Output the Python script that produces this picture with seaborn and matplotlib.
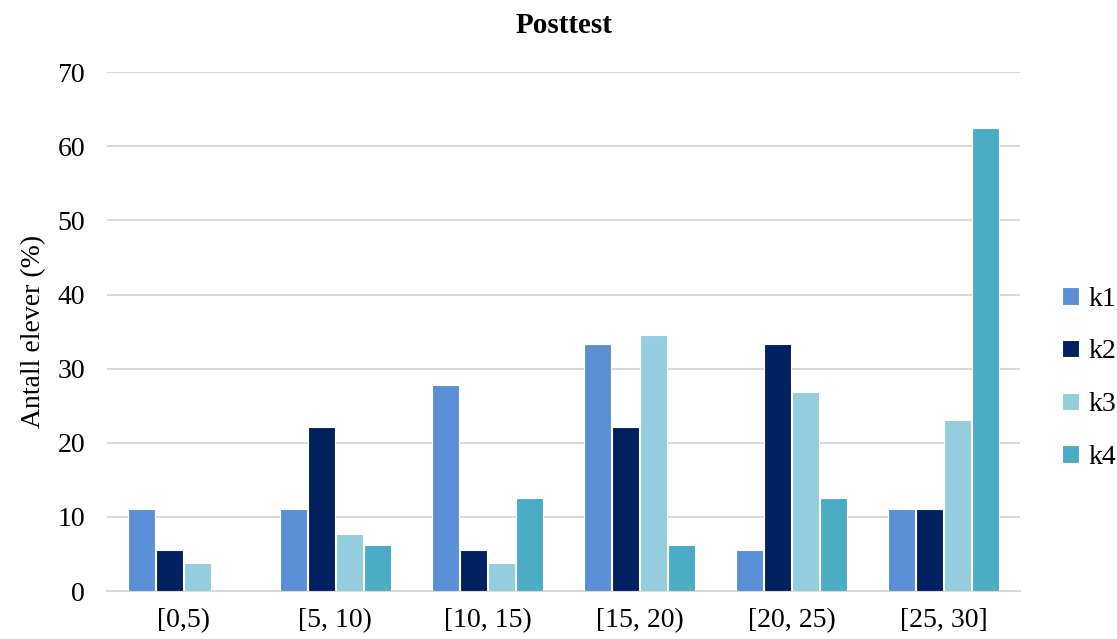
import numpy as np
import pandas as pd
import matplotlib.pyplot as plt
import seaborn as sns

# Data
intervals = ["[0,5)", "[5, 10)", "[10, 15)", "[15, 20)", "[20, 25)", "[25, 30]"]
k1 = [11.1, 11.1, 27.8, 33.3, 5.6, 11.1]
k2 = [5.6, 22.2, 5.6, 22.2, 33.3, 11.1]
k3 = [3.8, 7.7, 3.8, 34.6, 26.9, 23.1]
k4 = [0.0, 6.25, 12.5, 6.25, 12.5, 62.5]
groups = ["k1", "k2", "k3", "k4"]
colors = ["#5A8FD6", "#002060", "#94CDDD", "#4BACC6"]

df = pd.DataFrame({"Intervall": intervals, "k1": k1, "k2": k2, "k3": k3, "k4": k4})
df = df.melt(id_vars="Intervall", var_name="Klass", value_name="Andel")

sns.set_style("white")
plt.rcParams["font.family"] = ["Liberation Serif", "DejaVu Serif"]
plt.rcParams["text.color"] = "black"
plt.rcParams["axes.labelcolor"] = "black"
plt.rcParams["xtick.color"] = "black"
plt.rcParams["ytick.color"] = "black"

fig = plt.figure(figsize=(11.17, 6.39), dpi=100)
ax = fig.add_axes([0.096, 0.075, 0.817, 0.812])

sns.barplot(data=df, x="Intervall", y="Andel", hue="Klass", hue_order=groups,
            palette=colors, width=0.74, gap=0.04, edgecolor="white",
            linewidth=0.8, saturation=1, ax=ax, zorder=3)

ax.set_ylim(0, 70)
ax.set_yticks(range(0, 71, 10))
ax.yaxis.grid(True, color="#D9D9D9", linewidth=1.5, zorder=0)
ax.set_axisbelow(True)
for s in ["top", "right", "left"]:
    ax.spines[s].set_visible(False)
ax.spines["bottom"].set_color("#D9D9D9")
ax.spines["bottom"].set_linewidth(1.5)
ax.tick_params(axis="both", length=0, labelsize=20)
ax.tick_params(axis="y", pad=16)
ax.tick_params(axis="x", pad=12)
ax.set_xlabel("")
ax.set_ylabel("Antall elever (%)", fontsize=20, labelpad=8)
ax.set_title("Posttest", fontsize=21, fontweight="bold", pad=28)

ax.legend(loc="center left", bbox_to_anchor=(1.034, 0.41), frameon=False,
          borderaxespad=0, fontsize=20, handlelength=0.6, handleheight=0.6,
          handletextpad=0.35, labelspacing=1.0)

fig.savefig("out.png", dpi=100)
